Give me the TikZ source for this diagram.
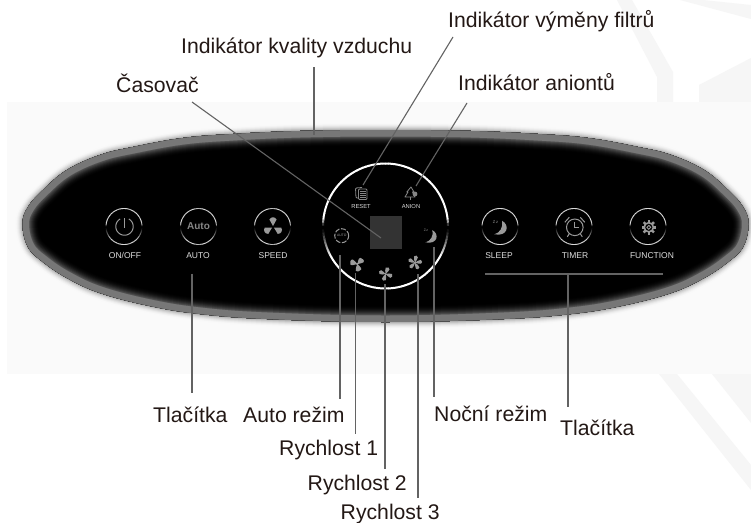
\documentclass[tikz,border=0pt]{standalone}
\usepackage{fontspec}
\setmainfont{Liberation Sans}
\definecolor{paneBg}{HTML}{FAFAFA}
\definecolor{stripeC}{HTML}{F6F6F6}
\definecolor{rimC}{HTML}{777777}
\definecolor{iconC}{HTML}{9A9A9A}
\definecolor{lineC}{HTML}{636363}
\definecolor{textC}{HTML}{231815}
\definecolor{panelTxt}{HTML}{DDDDDD}
\definecolor{squareC}{HTML}{333333}
\newcommand{\bodyPts}{(22.5,224)(28,207)(43,190)(67,170)(100,155)(133,147)(183,138)(233,134)(300,131)(385.5,130)
(471,131)(538,134)(588,138)(638,147)(671,155)(704,170)(728,190)(743,207)(748.5,224)
(743,247)(728,262)(704,278)(671,293)(621,306)(571,314)(504,319)(385.5,322)
(267,319)(200,314)(150,306)(100,293)(67,278)(43,262)(28,247)}
\newcommand{\bodyPath}{plot[smooth cycle,tension=0.65] coordinates {\bodyPts}}
% ring with bright upper half and a lower half fading towards the sides
\newcommand{\fadeRing}[6]{% x y r lw colour fadeAngle
  \foreach \a in {0,3,...,177}{
    \pgfmathsetmacro{\dd}{min(\a+1.5,180-\a-1.5)}
    \pgfmathsetmacro{\opT}{max(0,min(100,\dd/7*100))}
    \pgfmathsetmacro{\opB}{max(0,min(100,(\dd-3)/#6*100))}
    \pgfmathsetmacro{\aE}{\a+3.3}
    \draw[line width=#4pt,draw=#5!\opT!black] ({#1+#3*cos(\a)},{#2-#3*sin(\a)}) -- ({#1+#3*cos(\aE)},{#2-#3*sin(\aE)});
    \draw[line width=#4pt,draw=#5!\opB!black] ({#1+#3*cos(\a)},{#2+#3*sin(\a)}) -- ({#1+#3*cos(\aE)},{#2+#3*sin(\aE)});
  }
}
% fan icon: x y r blades rotation bladeScale
\newcommand{\fanIcon}[6]{%
  \begin{scope}[shift={(#1,#2)},yscale=-1,rotate=#5]
    \pgfmathsetmacro{\stepA}{360/#4}
    \foreach \k in {1,...,#4}{
      \begin{scope}[rotate=\k*\stepA,xscale=#6]
        \fill[iconC] (0,0) .. controls (-.1*#3,.3*#3) and (-.55*#3,.55*#3) .. (-.38*#3,.85*#3)
          .. controls (-.2*#3,1.08*#3) and (.32*#3,1.05*#3) .. (.36*#3,.8*#3)
          .. controls (.4*#3,.5*#3) and (.1*#3,.3*#3) .. (0,0) -- cycle;
      \end{scope}
    }
    \fill[iconC] (0,0) circle[radius=.16*#3];
  \end{scope}
}
% crescent icon: x y scale
\newcommand{\moonIcon}[3]{%
  \begin{scope}[shift={(#1,#2)},yscale=-1,scale=#3]
    \fill[iconC] (1,7.3) .. controls (9,3) and (7,-9) .. (-6.7,-6.3) .. controls (-1,-5) and (2.5,1) .. (1,7.3) -- cycle;
  \end{scope}
}
\tikzset{
  x=1pt,y=-1pt,
  bigLabel/.style={font=\fontsize{21.2}{21.2}\selectfont,text=textC,inner sep=0pt,anchor=base west},
  btnLabel/.style={font=\fontsize{8.5}{8.5}\selectfont,text=panelTxt,inner sep=0pt,anchor=base},
  tinyLabel/.style={font=\fontsize{5.8}{5.8}\selectfont,text=panelTxt,inner sep=0pt,anchor=base},
  leader/.style={draw=lineC,line width=1.1pt},
  iconLine/.style={draw=iconC,line width=1pt}
}
\begin{document}
\begin{tikzpicture}
\useasboundingbox (0,0) rectangle (751,522);
\fill[white] (0,0) rectangle (751,522);
% faint background stripes
\fill[stripeC] (617,0) -- (632,0) -- (673,72) -- (673,102) -- (657,102) -- (657,77) -- cycle;
\fill[stripeC] (680,0) -- (703,0) -- (751,5) -- (751,19) -- cycle;
\fill[stripeC] (699,85) -- (751,58) -- (751,102) -- (699,102) -- cycle;
\fill[stripeC] (659,374) -- (677,374) -- (751,465) -- (751,490) -- cycle;
\fill[stripeC] (712,374) -- (751,374) -- (751,423) -- cycle;
\fill[paneBg] (7,102) rectangle (751,374);
% soft glow
\foreach \w in {7,6,...,1}{
  \pgfmathsetmacro{\p}{(8-\w)*(8-\w)/49*55}
  \draw[line width=2*\w pt,draw=rimC!\p!paneBg] \bodyPath;
}
\fill[black] \bodyPath;
% rim and inner blur
\begin{scope}
  \clip \bodyPath;
  \foreach \w in {16,15,...,7}{
    \pgfmathsetmacro{\p}{(17-\w)*(17-\w)/100*75}
    \draw[line width=2*\w pt,draw=rimC!\p!black] \bodyPath;
  }
  \draw[line width=13pt,draw=rimC] \bodyPath;
\end{scope}

% round buttons
\fadeRing{124}{226.5}{18}{0.9}{white!85!black}{45}
\fadeRing{198.5}{226.5}{18}{0.9}{white!85!black}{45}
\fadeRing{272.5}{226.5}{18}{0.9}{white!85!black}{45}
\fadeRing{500}{226.5}{18}{0.9}{white!85!black}{45}
\fadeRing{574}{226.5}{18}{0.9}{white!85!black}{45}
\fadeRing{648}{226.5}{18}{0.9}{white!85!black}{45}
% central ring
\fadeRing{385.5}{226}{62.5}{2}{white}{26}

% button captions
\node[btnLabel] (onoff) at (125,258.5) {ON/OFF};
\node[btnLabel] (autoC) at (198,258.5) {AUTO};
\node[btnLabel] (speedC) at (273,258.5) {SPEED};
\node[btnLabel] (sleepC) at (499,258.5) {SLEEP};
\node[btnLabel] (timerC) at (575,258.5) {TIMER};
\node[btnLabel] (funcC) at (652,258.5) {FUNCTION};
\node[tinyLabel] (resetC) at (361,208) {RESET};
\node[tinyLabel] (anionC) at (411,208) {ANION};

% power icon
\draw[iconLine] plot[domain=120:420,samples=40] ({124.5+8.7*cos(\x)},{226.5-8.7*sin(\x)});
\draw[iconLine] (124.5,218) -- (124.5,228);
% auto icon
\node[inner sep=0pt,text=iconC!120!white,font=\fontsize{10}{10}\bfseries\selectfont] (autoI) at (198.5,226) {Auto};
% speed icon
\begin{scope}[shift={(273,227)},yscale=-1]
  \foreach \r in {0,120,240}{
    \begin{scope}[rotate=\r]
      \fill[iconC] (0,1) -- (-3.6,7.5) .. controls (-2.2,10.5) and (2.2,10.5) .. (3.6,7.5) -- cycle;
    \end{scope}
  }
\end{scope}
% sleep icon
\moonIcon{501}{228}{1}
\node[inner sep=0pt,text=iconC,font=\fontsize{4}{4}\selectfont] (sleepZ) at (495.5,222) {Z\,z};
% timer icon
\begin{scope}[shift={(574.8,227.3)},yscale=-1]
  \draw[iconLine] (0,0) circle[radius=8.3pt];
  \draw[iconLine] (0,5) -- (0,0) -- (4,0);
  \draw[iconLine] (-10,5) -- (-5.5,10);
  \draw[iconLine] (10,5) -- (5.5,10);
  \draw[iconLine] (-5.5,-6.5) -- (-7.5,-9.5);
  \draw[iconLine] (5.5,-6.5) -- (7.5,-9.5);
\end{scope}
% function icon
\begin{scope}[shift={(648.8,227.3)}]
  \foreach \r in {0,45,...,315}{
    \draw[draw=iconC,line width=2.4pt] ({4.5*cos(\r)},{4.5*sin(\r)}) -- ({7.3*cos(\r)},{7.3*sin(\r)});
  }
  \draw[draw=iconC,line width=1.6pt] (0,0) circle[radius=4.6pt];
  \draw[draw=iconC,line width=0.9pt] (0,0) circle[radius=1.9pt];
\end{scope}
% reset icon
\draw[draw=iconC!120!white,line width=0.8pt,rounded corners=1pt] (359,198) -- (356,198) -- (355.5,188) -- (362,187.5);
\draw[draw=iconC!120!white,line width=0.8pt,rounded corners=1pt,fill=black] (358.5,189) rectangle (367,199.5);
\foreach \yy in {191,193,195,197}{\draw[draw=iconC!120!white,line width=0.7pt] (360,\yy) -- (365.5,\yy);}
% anion icon
\draw[draw=iconC!120!white,line width=0.8pt,line join=round] (411,187) -- (414,192) -- (412.5,192) -- (415,197) -- (405,197) -- (408,192) -- (406.8,192) -- cycle;
\draw[draw=iconC!120!white,line width=0.8pt] (410.5,197) -- (410.5,199.5);
\fill[iconC!120!white] (415,194) circle[radius=2.4pt];
% mode icons in ring
\draw[draw=iconC,line width=1pt,dash pattern=on 5pt off 1.6pt] (341.7,235.7) circle[radius=7pt];
\node[inner sep=0pt,text=iconC,font=\fontsize{3.4}{3.4}\selectfont] (autoMini) at (341.7,235.7) {AUTO};
\fanIcon{357.3}{264}{7.4}{3}{50}{1}
\fanIcon{385.7}{274}{7}{4}{20}{0.8}
\fanIcon{415}{262.7}{7.2}{5}{10}{0.72}
\moonIcon{431.5}{236.7}{0.9}
\node[inner sep=0pt,text=iconC,font=\fontsize{3.4}{3.4}\selectfont] (nightZ) at (426,230) {Z\,z};
% timer square
\node[draw=none,fill=squareC,minimum width=32.5pt,minimum height=33.5pt,inner sep=0pt] (timerBox) at (385.75,232.25) {};

% labels
\node[bigLabel] (lFilter) at (448,27.7) {Indikátor výměny filtrů};
\node[bigLabel] (lQuality) at (181,53) {Indikátor kvality vzduchu};
\node[bigLabel] (lTimer) at (116,92.7) {Časovač};
\node[bigLabel] (lAnion) at (458,90.7) {Indikátor aniontů};
\node[bigLabel] (lBtnA) at (153,422) {Tlačítka};
\node[bigLabel] (lAuto) at (243,422) {Auto režim};
\node[bigLabel] (lR1) at (279,455) {Rychlost 1};
\node[bigLabel] (lR2) at (307.5,490.7) {Rychlost 2};
\node[bigLabel] (lR3) at (340.5,519) {Rychlost 3};
\node[bigLabel] (lNight) at (434,421.7) {Noční režim};
\node[bigLabel] (lBtnB) at (560,435) {Tlačítka};

% connector ends
\coordinate (cFilterA) at (453,37);   \coordinate (cFilterB) at (363,185);
\coordinate (cQualA) at (314,67);     \coordinate (cQualB) at (314,135);
\coordinate (cTimerA) at (192,102);   \coordinate (cTimerB) at (381,238);
\coordinate (cAnionA) at (467,103);   \coordinate (cAnionB) at (416,186);
\coordinate (cBtnAa) at (192,273.5);  \coordinate (cBtnAb) at (192,393);
\coordinate (cAutoA) at (340,255);    \coordinate (cAutoB) at (340,399);
\coordinate (cR1A) at (355.3,273);    \coordinate (cR1B) at (355.3,434);
\coordinate (cR2A) at (385,284);      \coordinate (cR2B) at (385,469);
\coordinate (cR3A) at (418,274);      \coordinate (cR3B) at (418,498);
\coordinate (cNightA) at (434,247);   \coordinate (cNightB) at (434,397);
\coordinate (cBarL) at (485,274);     \coordinate (cBarR) at (663,274);
\coordinate (cBarM) at (568,274);     \coordinate (cBarD) at (568,407);
\draw[leader] (cFilterA) -- (cFilterB);
\draw[leader] (cQualA) -- (cQualB);
\draw[leader] (cTimerA) -- (cTimerB);
\draw[leader] (cAnionA) -- (cAnionB);
\draw[leader] (cBtnAa) -- (cBtnAb);
\draw[leader] (cAutoA) -- (cAutoB);
\draw[leader] (cR1A) -- (cR1B);
\draw[leader] (cR2A) -- (cR2B);
\draw[leader] (cR3A) -- (cR3B);
\draw[leader] (cNightA) -- (cNightB);
\draw[leader] (cBarL) -- (cBarR);
\draw[leader] (cBarM) -- (cBarD);
\end{tikzpicture}
\end{document}
